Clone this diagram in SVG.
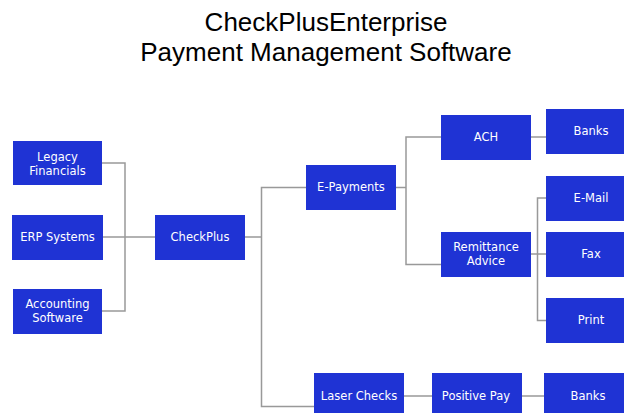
<svg xmlns="http://www.w3.org/2000/svg" width="624" height="413" viewBox="0 0 624 413">
<style>
.box{fill:#1f33d4}
.t{fill:#ffffff;font-family:"DejaVu Sans",Verdana,sans-serif;font-size:11.5px;text-anchor:middle}
.title{fill:#000;font-family:"Liberation Sans",Arial,sans-serif;font-size:26px;text-anchor:middle}
.c{fill:none;stroke:#999;stroke-width:1.5}
</style>
<rect width="624" height="413" fill="#fff"/>
<text class="title" x="326" y="31">CheckPlusEnterprise</text>
<text class="title" x="326" y="61">Payment Management Software</text>
<g id="connectors">
<polyline class="c" points="102,163 125,163 125,311 102,311"/>
<line class="c" x1="103" y1="237" x2="155" y2="237"/>
<polyline class="c" points="245,237 261.5,237"/>
<polyline class="c" points="306,187.5 261.5,187.5 261.5,406.5 314,406.5"/>
<polyline class="c" points="396,187.5 406,187.5"/>
<polyline class="c" points="441,137 406,137 406,264.5 441,264.5"/>
<line class="c" x1="531" y1="137" x2="546" y2="137"/>
<line class="c" x1="531" y1="254" x2="546" y2="254"/>
<polyline class="c" points="546,198 537.5,198 537.5,320.5 546,320.5"/>
<line class="c" x1="404" y1="396" x2="432" y2="396"/>
<line class="c" x1="522" y1="396" x2="544" y2="396"/>
</g>
<g id="legacy"><rect class="box" x="13" y="141" width="89" height="44"/><text class="t" x="57.5" y="161">Legacy</text><text class="t" x="57.5" y="175">Financials</text></g>
<g id="erp"><rect class="box" x="12" y="215" width="91" height="45"/><text class="t" x="57.5" y="241">ERP Systems</text></g>
<g id="accounting"><rect class="box" x="13" y="289" width="89" height="45"/><text class="t" x="57.5" y="308">Accounting</text><text class="t" x="57.5" y="322">Software</text></g>
<g id="checkplus"><rect class="box" x="155" y="215" width="90" height="45"/><text class="t" x="200" y="241">CheckPlus</text></g>
<g id="epayments"><rect class="box" x="306" y="165" width="90" height="45"/><text class="t" x="351" y="191">E-Payments</text></g>
<g id="ach"><rect class="box" x="441" y="115" width="90" height="45"/><text class="t" x="486" y="141">ACH</text></g>
<g id="banks1"><rect class="box" x="546" y="109" width="78" height="45"/><text class="t" x="591" y="135">Banks</text></g>
<g id="remittance"><rect class="box" x="441" y="232" width="90" height="45"/><text class="t" x="486" y="251">Remittance</text><text class="t" x="486" y="265">Advice</text></g>
<g id="email"><rect class="box" x="546" y="176" width="78" height="45"/><text class="t" x="591" y="202">E-Mail</text></g>
<g id="fax"><rect class="box" x="546" y="232" width="78" height="45"/><text class="t" x="591" y="258">Fax</text></g>
<g id="print"><rect class="box" x="546" y="298" width="78" height="45"/><text class="t" x="591" y="324">Print</text></g>
<g id="laser"><rect class="box" x="314" y="373" width="90" height="45"/><text class="t" x="359" y="400">Laser Checks</text></g>
<g id="positive"><rect class="box" x="432" y="373" width="90" height="45"/><text class="t" x="476" y="400">Positive Pay</text></g>
<g id="banks2"><rect class="box" x="544" y="373" width="80" height="45"/><text class="t" x="588" y="400">Banks</text></g>
</svg>
